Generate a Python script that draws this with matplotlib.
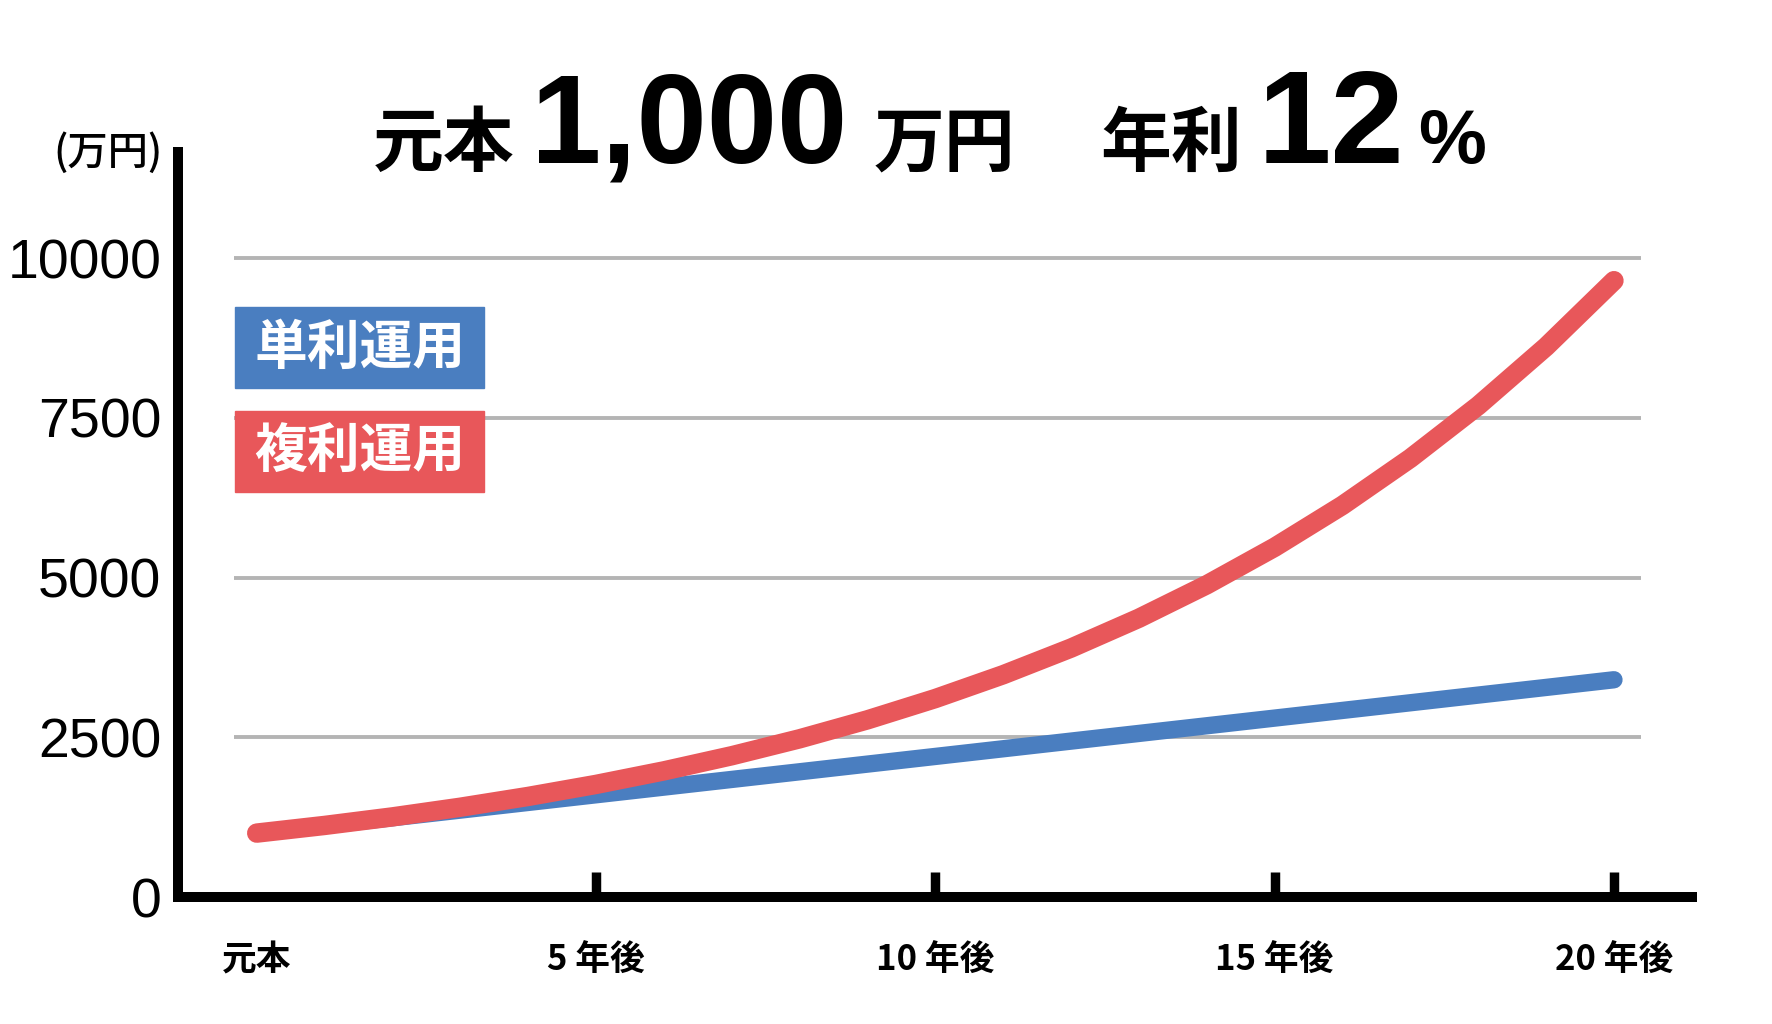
import matplotlib
matplotlib.use("Agg")
import matplotlib.pyplot as plt
from matplotlib.patches import Rectangle

plt.rcParams['font.family'] = ['Noto Sans CJK JP', 'DejaVu Sans']

# data (万円)
years = list(range(21))
simple = [1000, 1120, 1240, 1360, 1480, 1600, 1720, 1840, 1960, 2080, 2200,
          2320, 2440, 2560, 2680, 2800, 2920, 3040, 3160, 3280, 3400]
compound = [1000, 1120, 1254, 1405, 1574, 1762, 1974, 2211, 2476, 2773, 3106,
            3479, 3896, 4363, 4887, 5474, 6130, 6866, 7690, 8613, 9646]
xtick_pos = [0, 5, 10, 15, 20]
xtick_labels = ["元本", "5 年後", "10 年後", "15 年後", "20 年後"]
ytick_pos = [0, 2500, 5000, 7500, 10000]
legend_labels = ["単利運用", "複利運用"]

BLUE = "#4a7ec0"
RED = "#e8575a"
GRID = "#b4b4b4"
W, H = 1772, 1024

fig = plt.figure(figsize=(W / 100, H / 100), dpi=100)
ax = fig.add_axes([178 / W, 1 - 897 / H, (1692 - 178) / W, (897 - 152) / H])
ax.set_xlim(-1.16, 21.15)
ax.set_ylim(0, 11660)

# grid lines
ax.hlines(ytick_pos[1:], -0.33, 20.4, colors=GRID, lw=2.8, zorder=1)

ax.plot(years, simple, color=BLUE, lw=12.5, solid_capstyle='round',
        solid_joinstyle='round', zorder=3)
ax.plot(years, compound, color=RED, lw=14, solid_capstyle='round',
        solid_joinstyle='round', zorder=4)

for s in ['top', 'right']:
    ax.spines[s].set_visible(False)
for s in ['left', 'bottom']:
    ax.spines[s].set_linewidth(7.2)
    ax.spines[s].set_capstyle('projecting')

ax.set_yticks(ytick_pos)
ax.set_yticklabels([str(v) for v in ytick_pos], fontfamily='Liberation Sans',
                   fontsize=40)
ax.tick_params(axis='y', length=0, pad=12)

ax.set_xticks(xtick_pos)
ax.set_xticklabels(xtick_labels, fontsize=25, fontweight='bold')
ax.tick_params(axis='x', direction='in', length=18, width=6.8, pad=33)
ax.xaxis.get_major_ticks()[0].tick1line.set_visible(False)

# unit label
fig.text(163 / W, 1 - 153 / H, "(万円)", ha='right', va='center', fontsize=29,
         fontweight='medium')

# legend boxes
for i, (lab, col) in enumerate(zip(legend_labels, [BLUE, RED])):
    top = 307 + i * 104
    fig.patches.append(Rectangle((235 / W, 1 - (top + 81) / H), 249 / W, 81 / H,
                                 transform=fig.transFigure, color=col, zorder=5))
    fig.text(360 / W, 1 - (top + 41) / H, lab, ha='center', va='center',
             fontsize=38, fontweight='bold', color='white', zorder=6)

# title pieces
base = 1 - 166 / H
fig.text(373 / W, base, "元本", fontsize=51, fontweight='bold', va='baseline')
fig.text(531 / W, base + 3 / H, "1,000", fontsize=91, fontweight='bold',
         fontfamily='Liberation Sans', va='baseline')
fig.text(874 / W, base, "万円", fontsize=51, fontweight='bold', va='baseline')
fig.text(1100 / W, base, "年利", fontsize=51, fontweight='bold', va='baseline')
fig.text(1258 / W, base + 3 / H, "12", fontsize=95, fontweight='bold',
         fontfamily='Liberation Sans', va='baseline')
fig.text(1418 / W, base + 3 / H, "%", fontsize=55, fontweight='bold',
         fontfamily='Liberation Sans', va='baseline')

fig.savefig("out.png", dpi=100, facecolor='white')
